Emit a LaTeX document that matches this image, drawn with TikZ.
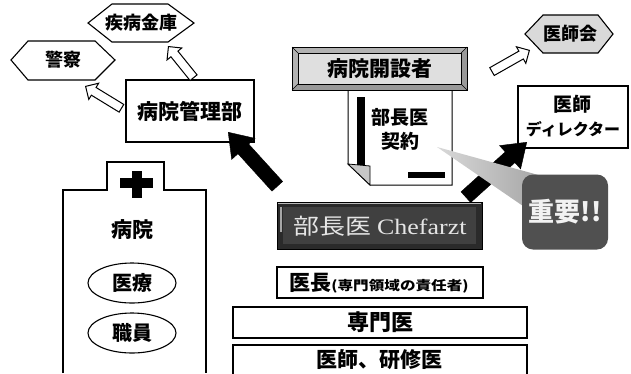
\documentclass[tikz,border=0pt]{standalone}
\usepackage{fontspec}
\usepackage{graphicx}
\setmainfont{Noto Sans CJK JP}
\newfontfamily\latinserif{Liberation Serif}
\usetikzlibrary{shapes.arrows,shapes.geometric}
\definecolor{darkface}{HTML}{404040}
\definecolor{darkframe}{HTML}{2A2A2A}
\definecolor{calloutgray}{HTML}{505050}
\begin{document}
\begin{tikzpicture}[x=1pt,y=-1pt,
  jt/.style={font=\bfseries\fontsize{#1}{#1}\selectfont, inner sep=0pt},
  jr/.style={font=\fontsize{#1}{#1}\selectfont, inner sep=0pt},
  boxn/.style={draw, line width=1.1pt, fill=white, inner sep=0pt},
  hexs/.style={draw, line width=1.1pt, line join=miter},
  oarr/.style={single arrow, draw, line width=1pt, fill=white, inner sep=4pt,
     single arrow head extend=5pt, single arrow tip angle=90, anchor=tip,
     sloped, allow upside down, pos=1},
  barr/.style={single arrow, draw=black, fill=black, inner sep=7pt,
     single arrow head extend=8.5pt, single arrow tip angle=70, anchor=tip,
     sloped, allow upside down, pos=1}]
\useasboundingbox (0,0) rectangle (631,373);

% hexagons
\draw[hexs, fill=white] (88,23) -- (112,4) -- (168,4) -- (194,23) -- (168,42) -- (112,42) -- cycle;
\node[jt=18] (shippei) at (141,23) {疾病金庫};
\draw[hexs, fill=white] (11,60) -- (28,41) -- (95,41) -- (115,60) -- (95,80) -- (28,80) -- cycle;
\node[jt=18] (keisatsu) at (63,60) {警察};
\draw[hexs, fill=gray!30] (525,34) -- (543,15) -- (598,15) -- (613,34) -- (598,53) -- (543,53) -- cycle;
\node[jt=18] (ishikai) at (570,34) {医師会};

% hospital management
\node[boxn, minimum width=128pt, minimum height=62pt, jt=21] (kanri) at (190,111) {病院管理部};

% open arrows
\coordinate (oa1s) at (193,77);  \coordinate (oa1e) at (168,46);
\coordinate (oa2s) at (121,108); \coordinate (oa2e) at (85,86);
\coordinate (oa3s) at (493,71);  \coordinate (oa3e) at (530,50);
\path (oa1s) -- node[oarr, minimum height=40pt] {} (oa1e);
\path (oa2s) -- node[oarr, minimum height=42pt] {} (oa2e);
\path (oa3s) -- node[oarr, minimum height=43pt] {} (oa3e);

% doctor director
\node[boxn, minimum width=110pt, minimum height=62pt] (director) at (573,117) {};
\node[jt=19] (dirA) at (572,104) {医師};
\node[jt=16] (dirB) at (573,129) {ディレクター};

% contract document
\draw[line width=1pt, fill=white] (348,90) -- (452,90) -- (452,185) -- (370,185) -- (348,164) -- cycle;
\draw[line width=0.8pt, fill=gray!45] (348,164) -- (370,166) -- (370,185) -- cycle;
\fill (357,97) rectangle (365,165);
\fill (408,172) rectangle (445,178);
\node[jt=19] (keiyakuA) at (400,117) {部長医};
\node[jt=19] (keiyakuB) at (400,141) {契約};

% founder beveled box
\fill[gray!60] (292,47) rectangle (467,90);
\fill[gray!80] (467,47) -- (467,90) -- (292,90) -- (298,84) -- (461,84) -- (461,53) -- cycle;
\fill[gray!25] (298,53) rectangle (461,84);
\draw[line width=1pt] (292,47) rectangle (467,90);
\draw[line width=0.6pt] (298,53) rectangle (461,84);
\draw[line width=0.5pt] (292,47) -- (298,53) (467,47) -- (461,53) (292,90) -- (298,84) (467,90) -- (461,84);
\node[jt=21] (kaisetsu) at (380,69) {病院開設者};

% hospital
\draw[line width=1.1pt] (63,373) -- (63,190) -- (107,190) -- (107,162) -- (164,162) -- (164,190) -- (206,190) -- (206,373);
\fill (132,171) rectangle (142,198);
\fill (120,178) rectangle (153,188);
\node[jt=21] (byoin) at (132,230) {病院};
\node[ellipse, draw, line width=1.1pt, minimum width=88pt, minimum height=40pt, jt=20] (iryo) at (132,283) {医療};
\node[ellipse, draw, line width=1.1pt, minimum width=88pt, minimum height=40pt, jt=20] (shokuin) at (132,333) {職員};

% black arrows
\coordinate (ba1s) at (277,186); \coordinate (ba1e) at (228,132);
\coordinate (ba2s) at (466,197); \coordinate (ba2e) at (527,142);
\path (ba1s) -- node[barr, minimum height=73pt] {} (ba1e);
\path (ba2s) -- node[barr, minimum height=82pt] {} (ba2e);

% callout
\coordinate (ptip) at (437,147);
\shade[left color=gray!30, right color=gray!70] (ptip) -- (542,176) -- (523,206) -- cycle;
\node[fill=calloutgray, rounded corners=11pt, minimum width=86pt, minimum height=75pt, inner sep=0pt] (juyo) at (565,212) {};
\node[jt=26, text=gray!10] (juyot) at (565,212) {重要!!};

% Chefarzt beveled box
\fill[darkframe] (277,202) rectangle (482,249);
\fill[darkface] (283,207) rectangle (476,244);
\draw[gray!55, line width=0.8pt] (278,203) -- (481,203);
\draw[gray!70, line width=1.5pt] (281,207) -- (281,232);
\draw[black, line width=1pt] (277,202) rectangle (482,249);
\node[jr=22, text=gray!20] (chefarzt) at (380,226) {\scalebox{1.18}[1]{部長医 {\latinserif Chefarzt}}};

% hierarchy boxes
\node[boxn, minimum width=206pt, minimum height=31pt] (icho) at (380,282.5) {};
\node[inner sep=0pt] (ichot) at (379,283) {{\bfseries\fontsize{21}{21}\selectfont 医長}{\bfseries\fontsize{13}{13}\selectfont\scalebox{1.2}[1]{(専門領域の責任者)}}};
\node[boxn, minimum width=294pt, minimum height=31pt, jt=22] (senmon) at (380,322.5) {専門医};
\draw[line width=1.1pt, fill=white] (233,380) -- (233,345) -- (527,345) -- (527,380);
\node[jt=21] (kenshu) at (379,360) {医師、研修医};
\end{tikzpicture}
\end{document}
